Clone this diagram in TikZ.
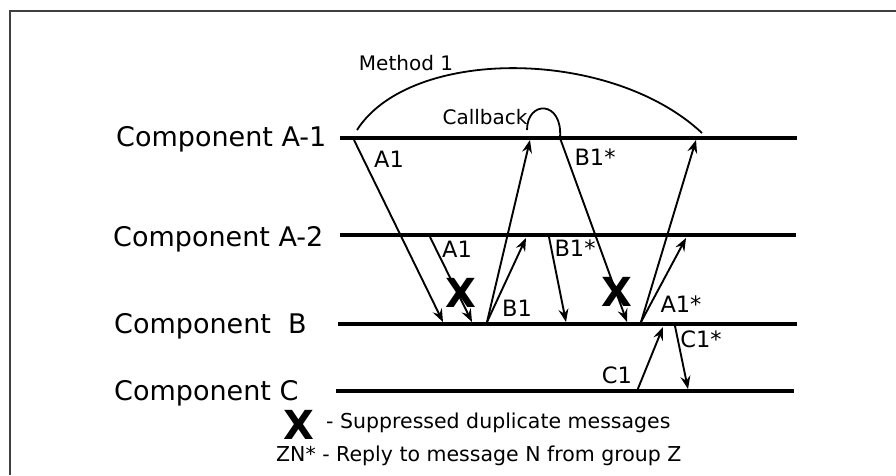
\documentclass[tikz,border=0pt]{standalone}
\usepackage{fontspec}
\setmainfont{DejaVu Sans}
\usetikzlibrary{arrows.meta}
\begin{document}
\begin{tikzpicture}[x=1pt,y=-1pt,
  lane/.style={line width=3.8pt},
  msg/.style={line width=1.9pt,-{Stealth[length=13pt,width=10pt,inset=4.5pt]}},
  curve/.style={line width=1.8pt},
  comp/.style={font=\fontsize{27}{30}\selectfont,anchor=base west,inner sep=0pt},
  lbl/.style={font=\fontsize{22.5}{26}\selectfont,inner sep=0pt},
  small/.style={font=\fontsize{20}{23}\selectfont,inner sep=0pt},
  cross/.style={font=\fontsize{40}{44}\selectfont\bfseries,inner sep=0pt},
  legend/.style={font=\fontsize{20.5}{24}\selectfont,inner sep=0pt,anchor=west},
  frame/.style={line width=2pt,black!75}]
\useasboundingbox (0,0) rectangle (896,475);
% frame
\coordinate (f1) at (10,475);
\coordinate (f2) at (10,11);
\coordinate (f3) at (896,11);
\draw[frame] (f1) -- (f2) -- (f3);
% lanes
\coordinate (a1s) at (340,138); \coordinate (a1e) at (797,138);
\coordinate (a2s) at (340,235); \coordinate (a2e) at (796,235);
\coordinate (bs) at (338,324);  \coordinate (be) at (797,324);
\coordinate (cs) at (336,391);  \coordinate (ce) at (794,391);
\draw[lane] (a1s) -- (a1e);
\draw[lane] (a2s) -- (a2e);
\draw[lane] (bs) -- (be);
\draw[lane] (cs) -- (ce);
% component labels
\node[comp] (ca1) at (116,146) {Component A-1};
\node[comp] (ca2) at (113,246) {Component A-2};
\node[comp] (cb)  at (114,333) {Component~~B};
\node[comp] (cc)  at (114,400) {Component C};
% endpoints
\coordinate (p1s) at (354,140); \coordinate (p1e) at (443,322);
\coordinate (p2s) at (430,237); \coordinate (p2e) at (472,322);
\coordinate (p3s) at (487,322); \coordinate (p3e) at (530,140);
\coordinate (p4e) at (526,238);
\coordinate (p5s) at (560,138); \coordinate (p5e) at (627,322);
\coordinate (p6s) at (549,237); \coordinate (p6e) at (566,322);
\coordinate (p7s) at (641,322); \coordinate (p7e) at (696,140);
\coordinate (p8e) at (686,238);
\coordinate (p9s) at (637,391); \coordinate (p9e) at (663,327);
\coordinate (p10s) at (675,326); \coordinate (p10e) at (688,389);
\coordinate (cbs) at (527,130);
\coordinate (ms) at (357,130); \coordinate (me) at (702,133);
% messages
\draw[msg] (p1s) -- (p1e);
\draw[msg] (p2s) -- (p2e);
\draw[msg] (p3s) -- (p3e);
\draw[msg] (p3s) -- (p4e);
\draw[msg] (p5s) -- (p5e);
\draw[msg] (p6s) -- (p6e);
\draw[msg] (p7s) -- (p7e);
\draw[msg] (p7s) -- (p8e);
\draw[msg] (p9s) -- (p9e);
\draw[msg] (p10s) -- (p10e);
% callback loop and method arc
\draw[curve] (cbs) .. controls (527,100) and (563,100) .. (p5s);
\draw[curve] (ms) .. controls (410,47) and (610,47) .. (me);
% labels
\node[lbl] (lA1a) at (389,159) {A1};
\node[lbl] (lA1b) at (457,249) {A1};
\node[lbl] (lB1)  at (517,308) {B1};
\node[lbl] (lB1sa) at (595,157) {B1*};
\node[lbl] (lB1sb) at (575,248) {B1*};
\node[lbl] (lA1s) at (681,304) {A1*};
\node[lbl] (lC1)  at (617,375) {C1};
\node[lbl] (lC1s) at (701,339) {C1*};
\node[small] (lm) at (406,63) {Method 1};
\node[small] (lcb) at (485,117) {Callback};
% suppressed markers
\node[cross] (x1) at (461,293) {X};
\node[cross] (x2) at (617,292) {X};
% legend
\node[cross] (lx) at (299,425) {X};
\node[legend] (lt1) at (326,423) {- Suppressed duplicate messages};
\node[legend] (lt2) at (276,456) {ZN* - Reply to message N from group Z};
\end{tikzpicture}
\end{document}
